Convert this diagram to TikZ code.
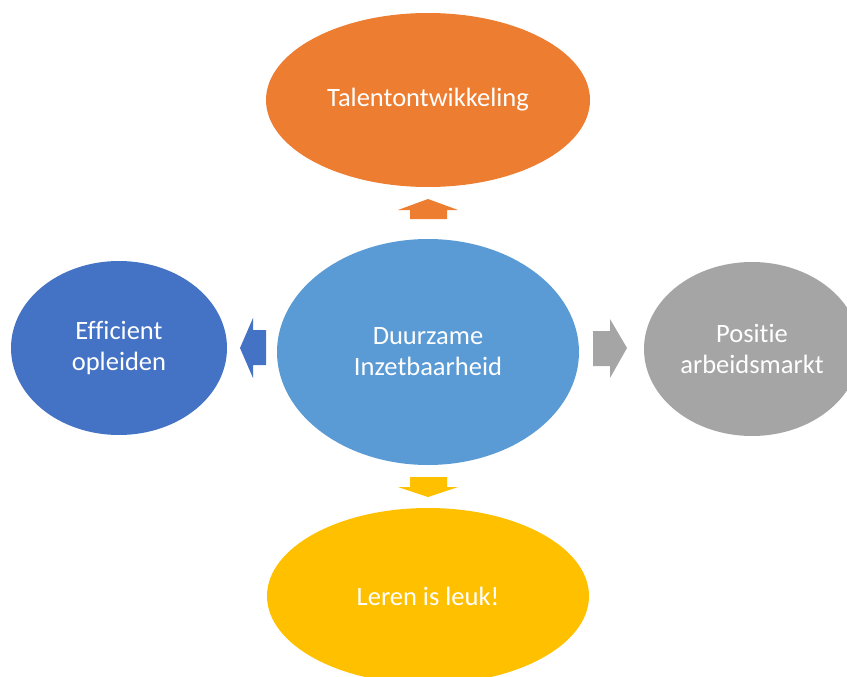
\documentclass[tikz,border=0pt]{standalone}
\usepackage{fontspec}
\setmainfont{Carlito}[Ligatures=NoCommon]
\usetikzlibrary{shapes.geometric}
\definecolor{cOrange}{HTML}{ED7D31}
\definecolor{cBlue}{HTML}{4472C4}
\definecolor{cLight}{HTML}{5B9BD5}
\definecolor{cGray}{HTML}{A5A5A5}
\definecolor{cYellow}{HTML}{FFC000}
\tikzset{
  blob/.style={ellipse, draw=none, inner sep=0pt, text=white, align=center,
    font=\fontsize{26.5}{31}\selectfont},
}
\begin{document}
\begin{tikzpicture}[x=1pt,y=-1pt]
\useasboundingbox (0,0) rectangle (847,677);
\node[blob, fill=cOrange, minimum width=324pt, minimum height=174pt] (top) at (428,100) {Talentontwikkeling};
\node[blob, fill=cLight, minimum width=302pt, minimum height=226pt] (mid) at (428,352) {Duurzame\\Inzetbaarheid};
\node[blob, fill=cBlue, minimum width=216pt, minimum height=174pt] (left) at (119,348) {Efficient\\opleiden};
\node[blob, fill=cGray, minimum width=216pt, minimum height=174pt] (right) at (752,349) {Positie\\arbeidsmarkt};
\node[blob, fill=cYellow, minimum width=322pt, minimum height=176pt] (bot) at (428,596) {Leren is leuk!};
% block arrows
\fill[cOrange] (428,199) -- (458,210) -- (447,210) -- (447,219) -- (410,219) -- (410,210) -- (398,210) -- cycle;
\fill[cYellow] (428,497) -- (458,487) -- (447,487) -- (447,477) -- (410,477) -- (410,487) -- (398,487) -- cycle;
\fill[cBlue] (240,348) -- (253,318) -- (253,330) -- (266,330) -- (266,365) -- (253,365) -- (253,378) -- cycle;
\fill[cGray] (627,348) -- (610,319) -- (610,331) -- (593,331) -- (593,366) -- (610,366) -- (610,378) -- cycle;
\end{tikzpicture}
\end{document}
